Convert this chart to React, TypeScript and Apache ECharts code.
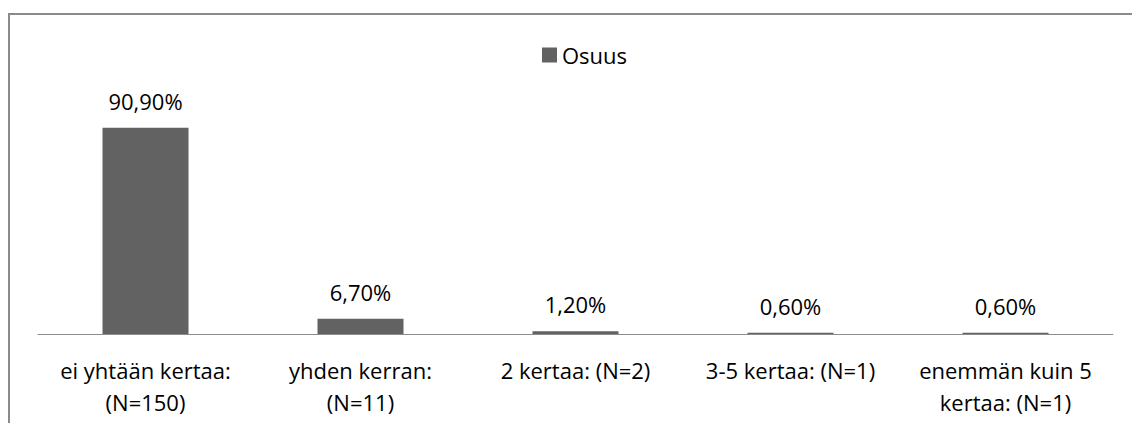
import React, { useEffect, useRef } from "react";
import * as echarts from "echarts";

const categories = [
  "ei yhtään kertaa:\n(N=150)",
  "yhden kerran:\n(N=11)",
  "2 kertaa: (N=2)",
  "3-5 kertaa: (N=1)",
  "enemmän kuin 5\nkertaa: (N=1)",
];
const osuus = [90.9, 6.7, 1.2, 0.6, 0.6];
const seriesName = "Osuus";

const FONT = "Open Sans";

export default function App() {
  const ref = useRef<HTMLDivElement>(null);
  useEffect(() => {
    if (!ref.current) return;
    const chart = echarts.init(ref.current, null, { renderer: "svg" });
    chart.setOption({
      animation: false,
      backgroundColor: "#ffffff",
      textStyle: { fontFamily: FONT },
      graphic: [
        {
          type: "rect",
          shape: { x: 9, y: 14, width: 1300, height: 600 },
          style: { fill: "none", stroke: "#8a8a8a", lineWidth: 2 },
          silent: true,
        },
      ],
      legend: {
        top: 39,
        left: 537,
        itemWidth: 15,
        itemHeight: 15,
        itemGap: 6,
        textStyle: { fontFamily: FONT, fontSize: 22, color: "#000" },
        data: [{ name: seriesName, icon: "rect" }],
      },
      grid: { left: 38, right: 19, top: 107, bottom: 89 },
      xAxis: {
        type: "category",
        data: categories,
        axisLine: { lineStyle: { color: "#8c8c8c", width: 1 } },
        axisTick: { show: false },
        axisLabel: {
          interval: 0,
          margin: 20,
          fontFamily: FONT,
          fontSize: 22,
          color: "#000",
          lineHeight: 32,
        },
      },
      yAxis: {
        type: "value",
        min: 0,
        max: 100,
        show: false,
        splitLine: { show: false },
      },
      series: [
        {
          name: seriesName,
          type: "bar",
          data: osuus,
          barWidth: "40%",
          itemStyle: { color: "#626262" },
          label: {
            show: true,
            position: "top",
            distance: 16,
            fontFamily: FONT,
            fontSize: 22,
            color: "#000",
            formatter: (p: any) => p.value.toFixed(2).replace(".", ",") + "%",
          },
        },
      ],
    });
    return () => chart.dispose();
  }, []);
  return (
    <div
      ref={ref}
      style={{ position: "absolute", left: 0, top: 0, width: 1132, height: 423 }}
    />
  );
}
